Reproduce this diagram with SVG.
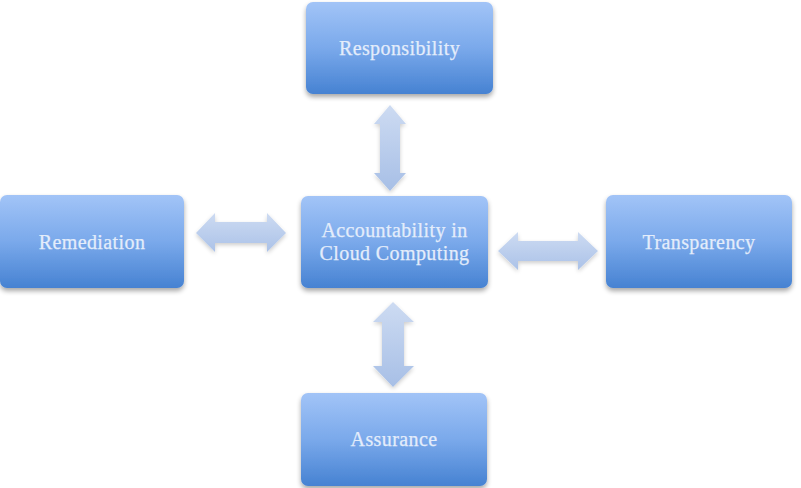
<svg xmlns="http://www.w3.org/2000/svg" width="801" height="488" viewBox="0 0 801 488">
<defs>
<linearGradient id="boxg" x1="0" y1="0" x2="0" y2="1">
<stop offset="0" stop-color="#a2c4f7"/>
<stop offset="0.5" stop-color="#7aa9eb"/>
<stop offset="1" stop-color="#4682d2"/>
</linearGradient>
<linearGradient id="arrv" x1="0" y1="0" x2="0" y2="1">
<stop offset="0" stop-color="#cddbf2"/>
<stop offset="1" stop-color="#a7bfe6"/>
</linearGradient>
<linearGradient id="arrh" x1="0" y1="0" x2="0" y2="1">
<stop offset="0" stop-color="#cddbf2"/>
<stop offset="1" stop-color="#abc2e8"/>
</linearGradient>
<filter id="sh" x="-10%" y="-10%" width="120%" height="130%">
<feGaussianBlur in="SourceAlpha" stdDeviation="2.5"/>
<feOffset dx="0" dy="3" result="b"/>
<feComponentTransfer><feFuncA type="linear" slope="0.35"/></feComponentTransfer>
<feMerge><feMergeNode/><feMergeNode in="SourceGraphic"/></feMerge>
</filter>
<filter id="ash" x="-20%" y="-20%" width="140%" height="140%">
<feGaussianBlur in="SourceAlpha" stdDeviation="2"/>
<feOffset dx="0" dy="2" result="b"/>
<feComponentTransfer><feFuncA type="linear" slope="0.2"/></feComponentTransfer>
<feMerge><feMergeNode/><feMergeNode in="SourceGraphic"/></feMerge>
</filter>
</defs>
<style>
.box{fill:url(#boxg);filter:url(#sh);}
.lbl{font-family:"Liberation Serif","DejaVu Serif",serif;font-size:20px;letter-spacing:0.4px;fill:#e4edfb;stroke:#e4edfb;stroke-width:0.25;text-anchor:middle;}
.av{fill:url(#arrv);filter:url(#ash);}
.ah{fill:url(#arrh);filter:url(#ash);}
</style>
<rect width="801" height="488" fill="#ffffff"/>
<g id="connectors">
<path class="av" d="M390,105 L406,124 L400,124 L400,173 L406,173 L390,191 L374,173 L380,173 L380,124 L374,124 Z"/>
<path class="av" d="M393,302 L414,322 L404,322 L404,366 L414,366 L393,387 L373,366 L382,366 L382,322 L373,322 Z"/>
<path class="ah" d="M196,233 L215,213 L215,222 L267,222 L267,213 L286,233 L267,252 L267,243 L215,243 L215,252 Z"/>
<path class="ah" d="M498,251 L518,232 L518,241 L578,241 L578,232 L598,251 L578,270 L578,261 L518,261 L518,270 Z"/>
</g>
<g id="node-responsibility">
<rect class="box" x="306" y="2" width="187" height="92" rx="7"/>
<text class="lbl" x="399.5" y="55">Responsibility</text>
</g>
<g id="node-center">
<rect class="box" x="301" y="196" width="187" height="92" rx="7"/>
<text class="lbl" x="394.5" y="237">Accountability in</text>
<text class="lbl" x="394.5" y="260">Cloud Computing</text>
</g>
<g id="node-remediation">
<rect class="box" x="0" y="195" width="184" height="93" rx="7"/>
<text class="lbl" x="92" y="249">Remediation</text>
</g>
<g id="node-transparency">
<rect class="box" x="606" y="195" width="186" height="93" rx="7"/>
<text class="lbl" x="699" y="249">Transparency</text>
</g>
<g id="node-assurance">
<rect class="box" x="301" y="393" width="186" height="93" rx="7"/>
<text class="lbl" x="394" y="446">Assurance</text>
</g>
</svg>
